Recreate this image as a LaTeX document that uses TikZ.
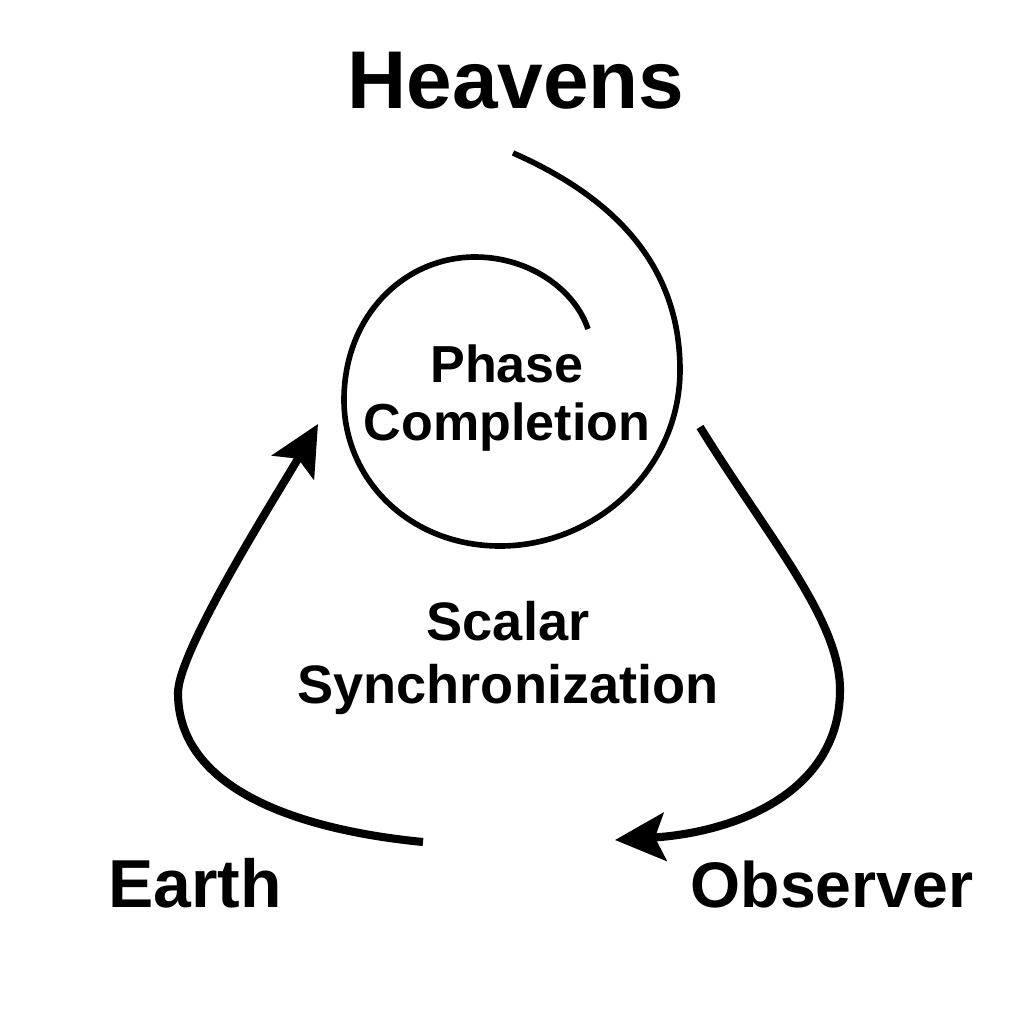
\documentclass[tikz,border=0pt]{standalone}
\usepackage{fontspec}
\setmainfont{Liberation Sans}
\usetikzlibrary{arrows.meta}

\tikzset{
  word/.style={inner sep=0pt, align=center},
  flow/.style={line width=2.3pt, -{Stealth[length=0.5cm, width=0.48cm, inset=0.1cm]}},
  spiral/.style={line width=1.6pt},
}

\begin{document}
\begin{tikzpicture}[x=0.01cm, y=-0.01cm]
        \path[fill=white] (0,0) rectangle (1024,1024);
        \useasboundingbox (0,0) rectangle (1024,1024);

        % labels
        \node[word, anchor=base, font=\bfseries\fontsize{23.3}{28}\selectfont] (heavens) at (516,108) {Heavens};
        \node[word, anchor=base, font=\bfseries\fontsize{19.3}{23}\selectfont] (earth) at (195,907) {Earth};
        \node[word, anchor=base, font=\bfseries\fontsize{18.3}{22}\selectfont] (observer) at (832,907) {Observer};
        \node[word, font=\bfseries\fontsize{14.8}{16.5}\selectfont] (phase) at (507,398) {Phase\\Completion};
        \node[word, font=\bfseries\fontsize{15.4}{17.9}\selectfont] (scalar) at (508,658) {Scalar\\Synchronization};

        % spiral round the phase label
        \coordinate (sp0) at (513,153);
        \coordinate (sp1) at (680,370);
        \coordinate (sp2) at (500,546);
        \coordinate (sp3) at (344,400);
        \coordinate (sp4) at (475,257);
        \coordinate (sp5) at (588,329);
        \draw[spiral] (sp0) .. controls (620,200) and (680,270) .. (sp1)
                            .. controls (680,470) and (595,546) .. (sp2)
                            .. controls (410,546) and (344,480) .. (sp3)
                            .. controls (344,315) and (405,257) .. (sp4)
                            .. controls (530,257) and (575,290) .. (sp5);

        % arrows
        \coordinate (obsfrom) at (700,427);
        \coordinate (obsbend) at (840,690);
        \coordinate (obsto) at (615,840);
        \draw[flow] (obsfrom) .. controls (770,540) and (840,620) .. (obsbend)
                              .. controls (840,790) and (740,832) .. (obsto);

        \coordinate (earthfrom) at (423,842);
        \coordinate (earthbend) at (178,693);
        \coordinate (earthto) at (318,424);
        \draw[flow] (earthfrom) .. controls (300,830) and (178,790) .. (earthbend)
                                .. controls (178,650) and (280,490) .. (earthto);
\end{tikzpicture}
\end{document}
